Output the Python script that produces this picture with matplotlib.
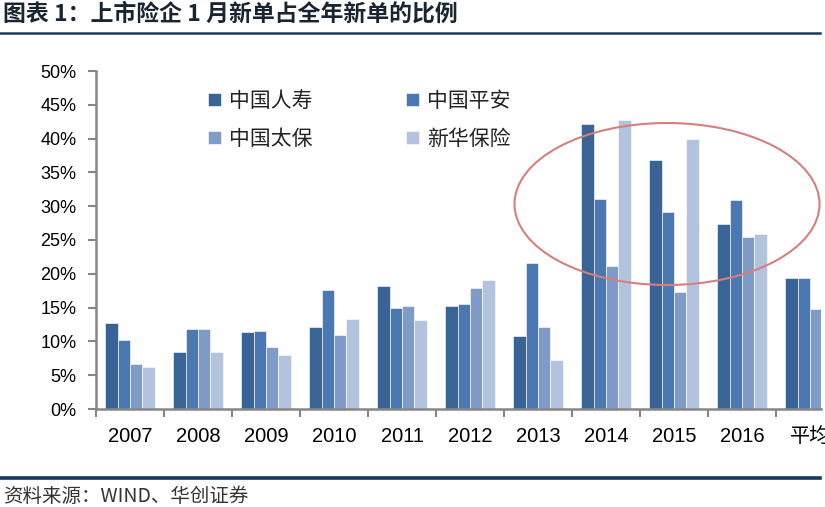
import matplotlib
matplotlib.use('Agg')
import matplotlib.pyplot as plt
from matplotlib import font_manager
from matplotlib.patches import Ellipse
from matplotlib.lines import Line2D
import numpy as np

# ---------------- data ----------------
categories = ['2007', '2008', '2009', '2010', '2011', '2012', '2013',
              '2014', '2015', '2016', '平均']
series_names = ['中国人寿', '中国平安', '中国太保', '新华保险']
china_life = [12.7, 8.5, 11.4, 12.1, 18.2, 15.2, 10.8, 42.2, 36.8, 27.3, 19.4]
ping_an = [10.2, 11.8, 11.6, 17.6, 15.0, 15.5, 21.6, 31.1, 29.2, 30.9, 19.4]
cpic = [6.6, 11.9, 9.1, 11.0, 15.3, 17.9, 12.1, 21.2, 17.3, 25.4, 14.8]
new_china = [6.2, 8.4, 8.0, 13.3, 13.1, 19.1, 7.3, 42.7, 39.9, 25.9, 18.4]
y_ticks = [0, 5, 10, 15, 20, 25, 30, 35, 40, 45, 50]

title_text = '图表 1：上市险企 1 月新单占全年新单的比例'
source_text = '资料来源：WIND、华创证券'

colors = ['#3B6496', '#4A78B2', '#7F9CC8', '#B3C3DE']

# ---------------- fonts ----------------
installed = {f.name for f in font_manager.fontManager.ttflist}
cjk = 'Noto Sans CJK SC'
narrow = 'Liberation Sans Narrow' if 'Liberation Sans Narrow' in installed else 'Liberation Sans'
plt.rcParams['font.family'] = [cjk, 'DejaVu Sans']

W, H = 825, 507
fig = plt.figure(figsize=(W / 100, H / 100), dpi=100)

ax_left, ax_right, ax_bottom_px, ax_top_px = 96, 821, 409, 71
ax = fig.add_axes([ax_left / W, (H - ax_bottom_px) / H,
                   (ax_right - ax_left) / W, (ax_bottom_px - ax_top_px) / H])

x = np.arange(len(categories))
bw = 0.182
all_series = [china_life, ping_an, cpic, new_china]
bars = []
for i, (vals, c, name) in enumerate(zip(all_series, colors, series_names)):
    b = ax.bar(x + (i - 1.5) * bw, vals, width=bw, color=c, label=name,
               edgecolor='white', linewidth=0.4, zorder=2)
    bars.append(b)

ax.set_yticks(y_ticks)
ax.set_yticklabels([f'{v}%' for v in y_ticks], fontfamily='Liberation Sans', fontsize=13)

ax.set_xticks(x)
ax.set_xticklabels(categories, fontsize=14.5, fontfamily=[narrow, cjk])
ax.set_xticks(np.arange(-0.5, len(categories), 1), minor=True)
ax.tick_params(axis='x', which='major', length=0, pad=13)
ax.tick_params(axis='x', which='minor', length=6, width=1.5, color='#868686', direction='out')
ax.tick_params(axis='y', length=6, width=1.5, color='#868686', direction='out', pad=8)

# limits set after ticks so they are not widened
ax.set_xlim(-0.5, (ax_right - 130) / 68)
ax.set_ylim(0, 50)

for s in ['top', 'right']:
    ax.spines[s].set_visible(False)
for s in ['left', 'bottom']:
    ax.spines[s].set_color('#868686')
    ax.spines[s].set_linewidth(1.8)

# legend filled row by row: row 1 人寿/平安, row 2 太保/新华
order = [0, 2, 1, 3]
leg = ax.legend(handles=[bars[k] for k in order], labels=[series_names[k] for k in order],
                ncol=2, frameon=False,
                loc='upper left', bbox_to_anchor=(208 / W, 1 - 90 / H),
                bbox_transform=fig.transFigure, borderaxespad=0, borderpad=0,
                fontsize=15, handlelength=0.6, handleheight=0.6,
                handletextpad=0.4, columnspacing=4.5, labelspacing=0.75)
for t in leg.get_texts():
    t.set_color('#222222')

# ellipse annotation
ell = Ellipse((667 / W, 1 - 204 / H), 305 / W, 162 / H, transform=fig.transFigure,
              fill=False, edgecolor='#D4807F', linewidth=1.5, zorder=5)
fig.patches.append(ell)

# title and rules
fig.text(3 / W, 1 - 14 / H, title_text, fontsize=16.5, fontweight='bold',
         color='#1A2533', ha='left', va='center')
fig.add_artist(Line2D([0, 820 / W], [1 - 33 / H, 1 - 33 / H], transform=fig.transFigure,
                      color='#1F3B5C', linewidth=1.8))
fig.add_artist(Line2D([0, 820 / W], [1 - 478 / H, 1 - 478 / H], transform=fig.transFigure,
                      color='#17375E', linewidth=2.6))
fig.text(3 / W, 1 - 496 / H, source_text, fontsize=14, color='#333333',
         ha='left', va='center', style='italic')

fig.savefig('out.png', dpi=100)
